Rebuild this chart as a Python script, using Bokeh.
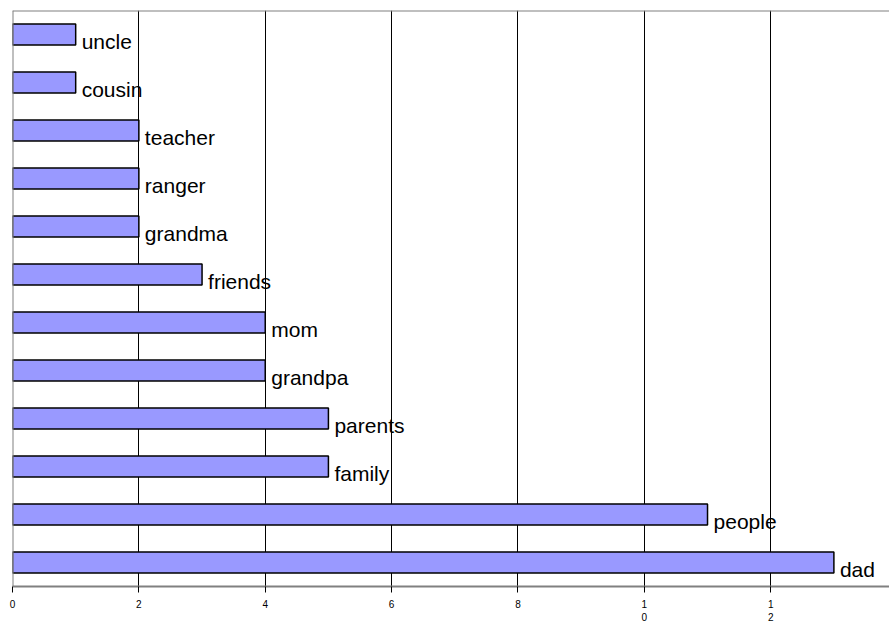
from bokeh.plotting import figure
from bokeh.models import ColumnDataSource, FactorRange, Range1d, FixedTicker, Span
from bokeh.core.properties import value
from bokeh.embed import file_html
from bokeh.resources import INLINE

# Word counts, listed bottom to top
words = ["dad", "people", "family", "parents", "grandpa", "mom",
         "friends", "grandma", "ranger", "teacher", "cousin", "uncle"]
counts = [13, 11, 5, 5, 4, 4, 3, 2, 2, 2, 1, 1]
tick_values = [0, 2, 4, 6, 8, 10, 12]
tick_labels = {10: "1\n0", 12: "1\n2"}

FONT = "Liberation Sans"

source = ColumnDataSource(data=dict(word=words, count=counts))

p = figure(
    width=889, height=628,
    y_range=FactorRange(factors=words, range_padding=0),
    x_range=Range1d(0, 13.88),
    output_backend="svg", toolbar_location=None,
    min_border_left=12, min_border_right=0,
    min_border_top=10, min_border_bottom=42,
)
p.outline_line_color = None
p.background_fill_color = "white"
p.border_fill_color = "white"

# vertical grid lines at every major tick
p.ygrid.grid_line_color = None
p.xgrid.ticker = FixedTicker(ticks=tick_values)
p.xgrid.grid_line_color = "black"
p.xgrid.grid_line_width = 1

# frame edges on the left and top
p.add_layout(Span(location=0, dimension="height", line_color="#808080", line_width=2))
p.add_layout(Span(location=len(words), dimension="width", line_color="#808080", line_width=2))

p.hbar(y="word", right="count", left=0, height=0.44, source=source,
       fill_color="#9999ff", line_color="black", line_width=1.5)

p.text(x="count", y="word", text="word", source=source,
       x_offset=6, y_offset=7, text_baseline="alphabetic", text_align="left",
       text_font=value(FONT), text_font_size="21px", text_color="black")

p.yaxis.visible = False

xa = p.xaxis[0]
xa.ticker = FixedTicker(ticks=tick_values)
xa.major_label_overrides = tick_labels
xa.axis_line_color = "#808080"
xa.axis_line_width = 2
xa.major_tick_line_color = "black"
xa.major_tick_in = 0
xa.major_tick_out = 6
xa.minor_tick_line_color = None
xa.major_label_text_font = FONT
xa.major_label_text_font_size = "10px"
xa.major_label_text_color = "black"
xa.major_label_standoff = 6

open("out.html", "w").write(file_html(p, INLINE))
